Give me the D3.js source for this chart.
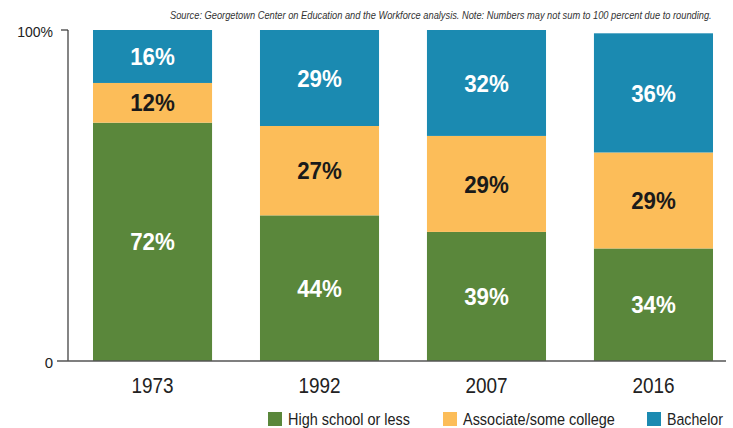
<!DOCTYPE html>
<html><head><meta charset="utf-8">
<script src="https://cdn.jsdelivr.net/npm/d3@7"></script>
<style>body{margin:0;background:#fff}svg{display:block}</style>
</head><body>
<svg id="c" width="733" height="428"></svg>
<script>
const years = ["1973","1992","2007","2016"];
const seriesNames = ["High school or less","Associate/some college","Bachelor"];
const highSchool = [72,44,39,34];
const associate = [12,27,29,29];
const bachelor = [16,29,32,36];
const yTicks = [0,100];
const colors = ["#5a873b","#fcbd59","#1b8ab1"];
const source = "Source: Georgetown Center on Education and the Workforce analysis. Note: Numbers may not sum to 100 percent due to rounding.";

const font = "'Liberation Sans',Arial,sans-serif";
const svg = d3.select("#c");
const m = {left:68, top:30, bottom:361, right:726};
const x = d3.scaleBand().domain(years).range([69,737]).paddingInner(0.287).paddingOuter(0.1437);
const y = d3.scaleLinear().domain([0,100]).range([m.bottom, m.top]);

const rows = years.map((yr,i)=>({year:yr, s0:highSchool[i], s1:associate[i], s2:bachelor[i]}));
const stack = d3.stack().keys(["s0","s1","s2"])(rows);

// fit a text horizontally into a given width by scaling its group
function fitText(parent, x0, yb, w, txt, attrs){
  const gg = parent.append("g");
  const t = gg.append("text").attr("x",0).attr("y",0).text(txt);
  Object.entries(attrs).forEach(([k,v])=>t.attr(k,v));
  const len = t.node().getComputedTextLength();
  const s = Math.min(1, w/len);
  gg.attr("transform",`translate(${x0},${yb}) scale(${s},1)`);
  return gg;
}

fitText(svg, 170, 18.5, 542, source, {"font-family":font,"font-style":"italic","font-size":10.5,"fill":"#333"});

const g = svg.append("g");
stack.forEach((layer,li)=>{
  g.selectAll(null).data(layer).enter().append("rect")
    .attr("x",d=>x(d.data.year)).attr("width",x.bandwidth())
    .attr("y",d=>y(d[1])).attr("height",d=>y(d[0])-y(d[1]))
    .attr("fill",colors[li]);
  g.selectAll(null).data(layer).enter().append("g")
    .attr("transform",d=>`translate(${x(d.data.year)+x.bandwidth()/2},${(y(d[0])+y(d[1]))/2}) scale(0.93,1)`)
    .append("text")
    .attr("dy","0.36em").attr("text-anchor","middle")
    .attr("font-family",font).attr("font-weight","bold").attr("font-size",24)
    .attr("fill", li===1 ? "#1a1a1a" : "#fff")
    .text(d=>(d[1]-d[0])+"%");
});

// y axis
svg.append("line").attr("x1",m.left).attr("x2",m.left).attr("y1",y(100)).attr("y2",y(0)).attr("stroke","#333").attr("stroke-width",1.2);
svg.append("line").attr("x1",61).attr("x2",m.left).attr("y1",y(100)).attr("y2",y(100)).attr("stroke","#333").attr("stroke-width",1.2);
svg.append("line").attr("x1",57).attr("x2",m.right).attr("y1",y(0)).attr("y2",y(0)).attr("stroke","#555").attr("stroke-width",1.5);
svg.selectAll(null).data(yTicks).enter().append("text")
  .attr("x",53).attr("y",d=>y(d)+2).attr("dy","0.35em").attr("text-anchor","end")
  .attr("font-family",font).attr("font-size",d=>d===100?14:15).attr("fill","#222")
  .text(d=>d===100?"100%":"0");

// x labels
svg.selectAll(null).data(years).enter().append("g")
  .attr("transform",d=>`translate(${x(d)+x.bandwidth()/2},393) scale(0.86,1)`)
  .append("text").attr("text-anchor","middle")
  .attr("font-family",font).attr("font-size",22).attr("fill","#222").text(d=>d);

// legend
const legX = [268,443,647];
const legW = [122,152,56];
seriesNames.forEach((n,i)=>{
  svg.append("rect").attr("x",legX[i]).attr("y",412).attr("width",14).attr("height",14).attr("fill",colors[i]);
  fitText(svg, legX[i]+20, 425, legW[i], n, {"font-family":font,"font-size":16.5,"fill":"#222"});
});
</script>
</body></html>
